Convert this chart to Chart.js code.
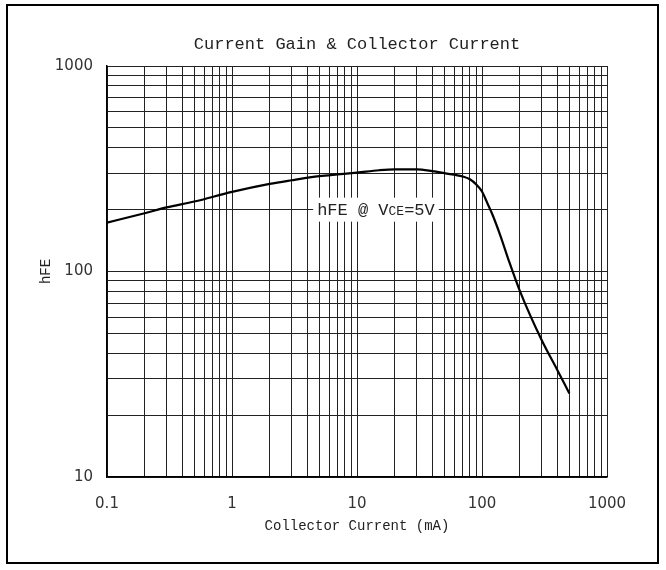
<!DOCTYPE html>
<html>
<head>
<meta charset="utf-8">
<script src="https://cdn.jsdelivr.net/npm/chart.js@4/dist/chart.umd.min.js"></script>
<style>
  html, body { margin: 0; padding: 0; background: #fff; }
  #chart_hfe { display: block; }
</style>
</head>
<body>
<canvas id="chart_hfe" width="666" height="570"></canvas>
<script>
// collector current (mA) / hFE, VCE = 5V
var ic_ma = [0.1, 0.2, 0.3, 0.5, 1, 2, 3, 5, 7, 10, 15, 20, 30, 40, 50, 70, 80, 90, 100, 110, 120, 140, 163, 200, 300, 400, 500];
var hfe = [173, 192, 205, 219, 244, 267, 278, 291, 297, 303, 311, 314, 314, 308, 301, 290, 281, 265, 245, 216, 192, 150, 114, 81, 46.4, 33.2, 25.5];

var x_decades = [0.1, 1, 10, 100, 1000];
var y_decades = [10, 100, 1000];
var steps = [1, 2, 3, 4, 5, 6, 7, 8, 9];

var titulo = "Current Gain & Collector Current";
var titulo_x = "Collector Current (mA)";
var titulo_y = "hFE";
var etiqueta = ["hFE @ V", "CE", "=5V"];
var etiqueta_en = { x: 4.8, y: 200 };

var mono = "'Liberation Mono', monospace";
var sans = "'DejaVu Sans', sans-serif";

function grid_values(decades) {
    var out = [];
    for (var i = 0; i < decades.length - 1; i++) {
        steps.forEach(function (s) {
            out.push(+(decades[i] * s).toPrecision(6));
        });
    }
    out.push(decades[decades.length - 1]);
    return out;
}

function solo_decadas(value) {
    var l = Math.log10(value);
    return Math.abs(l - Math.round(l)) < 1e-9 ? String(value) : "";
}

var marco = {
    id: "marco",
    afterDatasetsDraw: function (chart) {
        var ctx = chart.ctx;
        var px = chart.scales.x.getPixelForValue(etiqueta_en.x);
        var py = chart.scales.y.getPixelForValue(etiqueta_en.y);
        ctx.save();
        ctx.textBaseline = "middle";
        ctx.font = "17px " + mono;
        var w1 = ctx.measureText(etiqueta[0]).width;
        var w3 = ctx.measureText(etiqueta[2]).width;
        ctx.font = "13px " + mono;
        var w2 = ctx.measureText(etiqueta[1]).width;
        ctx.fillStyle = "#fff";
        ctx.fillRect(px - 4, py - 12, w1 + w2 + w3 + 8, 24);
        ctx.fillStyle = "#222";
        ctx.font = "17px " + mono;
        ctx.fillText(etiqueta[0], px, py + 1);
        ctx.font = "13px " + mono;
        ctx.fillText(etiqueta[1], px + w1, py + 2);
        ctx.font = "17px " + mono;
        ctx.fillText(etiqueta[2], px + w1 + w2, py + 1);
        ctx.restore();
    },
    afterDraw: function (chart) {
        var ctx = chart.ctx;
        var area = chart.chartArea;
        ctx.save();
        ctx.fillStyle = "#222";
        ctx.font = "17px " + mono;
        ctx.textAlign = "center";
        ctx.textBaseline = "middle";
        ctx.fillText(titulo, (area.left + area.right) / 2, 44);
        ctx.strokeStyle = "#000";
        ctx.lineWidth = 2;
        ctx.strokeRect(7, 5, 651, 558);
        ctx.restore();
    },
};

var ctx_hfe = document.getElementById("chart_hfe");
var chart_hfe = new Chart(ctx_hfe, {
    type: "line",
    data: {
        datasets: [
            {
                label: "hFE",
                data: ic_ma.map(function (v, i) {
                    return { x: v, y: hfe[i] };
                }),
                borderColor: "#000",
                borderWidth: 2.2,
                pointRadius: 0,
                fill: false,
                cubicInterpolationMode: "monotone",
            },
        ],
    },
    options: {
        responsive: false,
        animation: false,
        layout: {
            padding: { top: 66, left: 10, right: 59, bottom: 0 },
        },
        plugins: {
            legend: { display: false },
            tooltip: { enabled: false },
        },
        scales: {
            x: {
                type: "logarithmic",
                min: 0.1,
                max: 1000,
                afterBuildTicks: function (scale) {
                    scale.ticks = grid_values(x_decades).map(function (v) {
                        return { value: v };
                    });
                },
                afterFit: function (scale) {
                    scale.height = 93;
                },
                grid: { color: "#222", lineWidth: 1, drawTicks: false },
                border: { color: "#000", width: 1.5 },
                ticks: {
                    autoSkip: false,
                    maxRotation: 0,
                    padding: 18,
                    color: "#333",
                    font: { family: sans, size: 15 },
                    callback: solo_decadas,
                },
                title: {
                    display: true,
                    text: titulo_x,
                    color: "#222",
                    font: { family: mono, size: 14 },
                    padding: { top: 0, bottom: 35 },
                },
            },
            y: {
                type: "logarithmic",
                min: 10,
                max: 1000,
                afterBuildTicks: function (scale) {
                    scale.ticks = grid_values(y_decades).map(function (v) {
                        return { value: v };
                    });
                },
                afterFit: function (scale) {
                    scale.width = 97;
                },
                grid: { color: "#222", lineWidth: 1, drawTicks: false },
                border: { color: "#000", width: 1.5 },
                ticks: {
                    autoSkip: false,
                    padding: 14,
                    color: "#333",
                    font: { family: sans, size: 15 },
                    callback: solo_decadas,
                },
                title: {
                    display: true,
                    text: titulo_y,
                    color: "#222",
                    font: { family: mono, size: 14 },
                    padding: { top: 28, bottom: 0 },
                },
            },
        },
    },
    plugins: [marco],
});
</script>
</body>
</html>
